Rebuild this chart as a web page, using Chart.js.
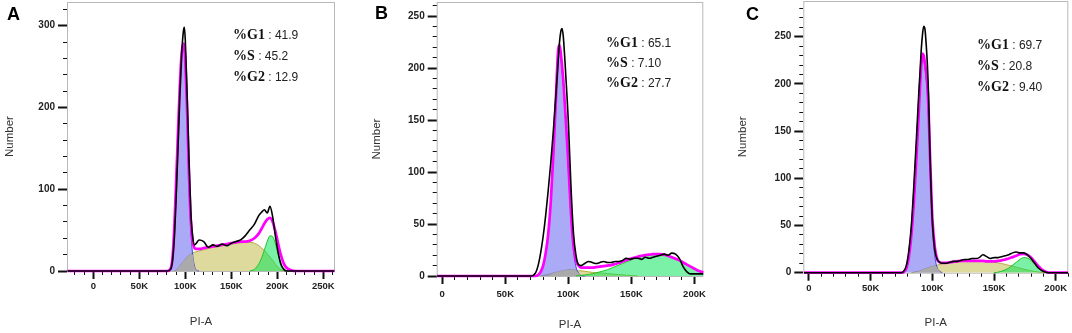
<!DOCTYPE html>
<html>
<head>
<meta charset="utf-8">
<script src="https://cdn.jsdelivr.net/npm/chart.js@4/dist/chart.umd.min.js"></script>
<style>
  html, body { margin: 0; padding: 0; background: #fff; }
  body { width: 1072px; height: 333px; position: relative; overflow: hidden; }
  canvas { position: absolute; top: 0; }
  .letter { position: absolute; font: bold 18px/18px "Liberation Sans", Arial, sans-serif; color: #000; }
  .stats { position: absolute; white-space: nowrap; }
  .stats div { line-height: 21px; height: 21px; }
  .stats b { font: bold 14px "Liberation Serif", "Times New Roman", serif; color: #111; }
  .stats span { font: 12px "Liberation Sans", Arial, sans-serif; color: #222; }
</style>
</head>
<body>
<canvas id="chartA" width="355" height="333" style="left:0px"></canvas>
<canvas id="chartB" width="355" height="333" style="left:355px"></canvas>
<canvas id="chartC" width="362" height="333" style="left:710px"></canvas>
<div class="letter" id="letterA" style="left:7px;top:5px"></div>
<div class="letter" id="letterB" style="left:375px;top:4px"></div>
<div class="letter" id="letterC" style="left:746px;top:5px"></div>
<div class="stats" id="statsA" style="left:233px;top:23px"></div>
<div class="stats" id="statsB" style="left:606px;top:32px"></div>
<div class="stats" id="statsC" style="left:977px;top:33px"></div>
<script>
// PI-A in thousands (K), y = Number of events
const PANEL_LETTERS = ['A', 'B', 'C'];
const PHASES = ['%G1', '%S', '%G2'];
const A_PCT = ['41.9', '45.2', '12.9'];
const B_PCT = ['65.1', '7.10', '27.7'];
const C_PCT = ['69.7', '20.8', '9.40'];

// ---- panel A ----
const A_X = [-28, 80, 84, 86, 88, 90, 92, 94, 96, 98, 99, 100, 102, 104, 106, 108, 110, 112, 115, 120,
  125, 130, 135, 140, 145, 150, 155, 160, 165, 170, 175, 180, 183, 186, 189, 192, 195, 198, 201, 204,
  207, 210, 215, 220, 262];
const A_RAW = [0, 0, 2, 12, 40, 90, 150, 215, 265, 294, 298, 282, 215, 135, 72, 42, 32, 34, 38, 36,
  29, 32, 30, 33, 31, 34, 36, 38, 43, 50, 57, 68, 72, 75, 71, 79, 66, 42, 22, 8,
  2, 0, 0, 0, 0];
const A_FIT = [0, 0, 3, 15, 52, 108, 168, 225, 266, 278, 274, 258, 195, 118, 62, 36, 28, 27, 27, 28,
  29, 30, 31, 32, 33, 34, 35, 36, 36, 37, 40, 46, 52, 58, 63, 65, 60, 48, 33, 19,
  9, 4, 1, 0, 0];
const A_G1 = [null, 0, 2, 13, 48, 100, 160, 218, 262, 278, 274, 255, 188, 108, 50, 20, 6, 1, 0, null,
  null, null, null, null, null, null, null, null, null, null, null, null, null, null, null, null, null, null, null, null,
  null, null, null, null, null];
const A_S = [null, null, null, null, 0, 0.5, 3, 6, 9, 12, 13, 14.5, 17, 19, 20.5, 22, 23, 23.5, 24.5, 26,
  27.5, 29, 30, 31, 32, 33, 34, 34.5, 35, 35, 34, 31, 28, 25, 21, 17, 13, 8, 4.5, 1.5,
  0, null, null, null, null];
const A_OVERLAP = [null, null, null, null, null, 0, 3, 6, 9, 12, 13, 14.5, 17, 19, 20.5, 20, 6, 1, 0, null,
  null, null, null, null, null, null, null, null, null, null, null, null, null, null, null, null, null, null, null, null,
  null, null, null, null, null];
const A_G2 = [null, null, null, null, null, null, null, null, null, null, null, null, null, null, null, null, null, null, null, null,
  null, null, null, null, null, null, null, null, null, 0, 2, 9, 16, 26, 36, 43, 42, 33, 20, 9,
  3, 0.5, 0, null, null];

// ---- panel B ----
const B_X = [-4, 70, 74, 76, 78, 80, 82, 84, 86, 88, 90, 92, 93, 94, 95, 96, 98, 100, 102, 104,
  106, 108, 110, 113, 116, 119, 122, 125, 128, 131, 134, 137, 140, 143, 146, 149, 152, 155, 158, 161,
  164, 167, 170, 173, 176, 179, 182, 185, 188, 191, 194, 197, 200, 203, 207];
const B_RAW = [0, 0, 3, 10, 22, 38, 58, 82, 108, 138, 172, 208, 225, 235, 238, 230, 192, 148, 88, 42,
  20, 11, 10, 12, 14, 13, 12, 13, 14, 13, 13, 14, 14, 15, 17, 16, 17, 17, 16, 18,
  17, 18, 19, 20, 21, 20, 22, 21, 17, 9, 4, 2, 2, 2, 2];
const B_FIT = [0, 0, 0, 1, 4, 10, 22, 40, 70, 115, 168, 218, 222, 214, 202, 188, 150, 108, 62, 30,
  15, 10, 8, 8, 8, 8, 8.5, 9, 9.5, 10, 10.5, 11.5, 12.5, 14, 15.5, 16.5, 17.5, 18.5, 19.5, 20,
  20.5, 21, 21, 21, 20.5, 19.5, 18, 16.5, 15, 13, 11, 9, 7, 5, 3.5];
const B_G1 = [null, null, 0, 1, 4, 10, 22, 40, 70, 114, 165, 215, 218, 210, 198, 184, 145, 103, 57, 25,
  9, 3, 0.5, 0, null, null, null, null, null, null, null, null, null, null, null, null, null, null, null, null,
  null, null, null, null, null, null, null, null, null, null, null, null, null, null, null];
const B_S = [null, null, null, null, 0, 0.5, 1, 1.5, 2, 3, 3.5, 4, 4.5, 4.5, 5, 5, 5.5, 6, 6, 6,
  5.5, 5, 5, 4.5, 4, 3.5, 3.2, 3, 2.7, 2.4, 2, 1.7, 1.4, 1.1, 0.8, 0.5, 0.3, 0, null, null,
  null, null, null, null, null, null, null, null, null, null, null, null, null, null, null];
const B_OVERLAP = [null, null, null, null, null, null, null, 0, 1.5, 3, 3.5, 4, 4.5, 4.5, 5, 5, 5.5, 6, 6, 6,
  5.5, 3, 0.5, 0, null, null, null, null, null, null, null, null, null, null, null, null, null, null, null, null,
  null, null, null, null, null, null, null, null, null, null, null, null, null, null, null];
const B_G2 = [null, null, null, null, null, null, null, null, null, null, null, null, null, null, null, null, null, null, null, null,
  0, 0.3, 0.6, 1, 1.5, 2.2, 3, 4, 5, 6, 7.5, 9, 10.5, 12, 13.5, 15, 16.5, 17.5, 18.5, 19.5,
  20, 20.5, 20.5, 20.5, 20, 19.5, 18, 16.5, 15, 13, 11, 9, 7, 5, 3.5];

// ---- panel C ----
const C_X = [-4, 70, 75, 77, 79, 81, 83, 85, 87, 89, 90, 91, 92, 93, 94, 95, 96, 97, 98, 99,
  100, 102, 104, 106, 108, 111, 114, 117, 120, 123, 126, 129, 132, 135, 138, 141, 144, 147, 150, 153,
  156, 159, 162, 165, 168, 171, 174, 177, 180, 183, 186, 189, 192, 195, 200, 210];
const C_RAW = [0, 0, 0, 2, 8, 24, 50, 92, 140, 190, 212, 236, 252, 261, 258, 242, 220, 185, 130, 88,
  55, 24, 14, 11, 10, 10, 11, 12, 12, 13, 14, 14, 15, 15, 16, 19, 17, 15, 16, 16,
  17, 18, 19, 21, 22, 21, 21, 19, 15, 10, 5, 2, 0.5, 0, 0, 0];
const C_FIT = [0, 0, 0, 1, 5, 17, 40, 75, 120, 170, 198, 220, 232, 230, 222, 212, 198, 170, 128, 90,
  58, 27, 14, 11, 10.5, 10.5, 11, 11.5, 12, 12.5, 12.5, 12.5, 12.5, 12.5, 12.5, 12.5, 12, 12, 12, 12.5,
  13, 14, 15, 16.5, 18, 19.5, 20, 19, 16, 11.5, 7, 3, 1, 0, 0, 0];
const C_G1 = [null, null, 0, 1, 5, 17, 40, 74, 118, 167, 195, 216, 228, 226, 217, 205, 190, 160, 118, 80,
  48, 18, 5, 1.5, 0, null, null, null, null, null, null, null, null, null, null, null, null, null, null, null,
  null, null, null, null, null, null, null, null, null, null, null, null, null, null, null, null];
const C_S = [null, null, null, null, null, null, 0, 0.5, 1, 1.5, 2, 2.5, 3, 3.5, 4, 4.5, 5, 5.5, 6, 6.3,
  6.5, 7.5, 8, 8.8, 9.5, 10.2, 10.8, 11.2, 11.5, 11.7, 11.8, 12, 12, 12, 12, 12, 11.7, 11.3, 11, 10.5,
  9.8, 8.8, 7.8, 7, 5.8, 4.8, 3.8, 2.8, 2, 1.3, 0.7, 0.2, 0, null, null, null];
const C_OVERLAP = [null, null, null, null, null, null, null, 0, 0.5, 1.5, 2, 2.5, 3, 3.5, 4, 4.5, 5, 5.5, 6, 6.3,
  6.5, 7.5, 5, 1.5, 0, null, null, null, null, null, null, null, null, null, null, null, null, null, null, null,
  null, null, null, null, null, null, null, null, null, null, null, null, null, null, null, null];
const C_G2 = [null, null, null, null, null, null, null, null, null, null, null, null, null, null, null, null, null, null, null, null,
  null, null, null, null, null, null, null, null, null, null, null, null, null, null, null, null, null, null, 0, 0.5,
  1.5, 3, 5, 8, 11, 14, 16, 15.5, 13, 9, 5, 2.5, 0.5, 0, null, null];

const FONT = '"Liberation Sans", Arial, sans-serif';

// light grey box around the plot area
const framePlugin = {
    id: 'frame',
    beforeDatasetsDraw(chart) {
        const {ctx, chartArea: a} = chart;
        ctx.save();
        ctx.strokeStyle = '#b8b8b8';
        ctx.lineWidth = 1;
        ctx.strokeRect(a.left + 0.5, a.top + 0.5, a.right - a.left - 1, a.bottom - a.top);
        ctx.restore();
    }
};

function line(xs, ys, extra) {
    return Object.assign({
        data: xs.map((x, i) => ({x: x, y: ys[i]})),
        pointRadius: 0,
        cubicInterpolationMode: 'monotone',
        spanGaps: false,
        clip: false,
    }, extra);
}

function buildChart(id, p) {
    const tickFont = {family: FONT, size: 9.5, weight: 'bold'};
    const yTickFont = {family: FONT, size: 10, weight: 'bold'};
    const fixed = (w, h) => s => {
        if (w !== null) s.width = w;
        if (h !== null) s.height = h;
        s.paddingLeft = 0; s.paddingRight = 0; s.paddingTop = 0; s.paddingBottom = 0;
    };
    new Chart(document.getElementById(id), {
        type: 'line',
        data: {
            datasets: [
                line(p.x, p.raw, {borderColor: '#000', borderWidth: 1.6, fill: false}),
                line(p.x, p.fit, {borderColor: '#ff00ff', borderWidth: 2.7, fill: false}),
                line(p.x, p.g2, {borderColor: '#22c322', borderWidth: 1, backgroundColor: 'rgba(0,228,85,0.52)', fill: 'origin'}),
                line(p.x, p.overlap, {borderWidth: 0, borderColor: 'rgba(0,0,0,0)', backgroundColor: '#aaaaaa', fill: 'origin'}),
                line(p.x, p.g1, {borderColor: 'rgba(50,50,220,0.9)', borderWidth: 1, backgroundColor: 'rgba(105,105,240,0.57)', fill: 'origin'}),
                line(p.x, p.s, {borderColor: '#b3aa3e', borderWidth: 1, backgroundColor: 'rgba(190,180,60,0.5)', fill: 'origin'}),
            ]
        },
        plugins: [framePlugin],
        options: {
            responsive: false,
            animation: false,
            devicePixelRatio: 1,
            layout: {padding: {left: 0, top: p.top, right: p.padRight, bottom: 0}},
            plugins: {legend: {display: false}, tooltip: {enabled: false}},
            scales: {
                x: {
                    type: 'linear', position: 'bottom', weight: 1, min: p.xmin, max: p.xmax,
                    ticks: {
                        stepSize: 50, includeBounds: false, autoSkip: false, maxRotation: 0,
                        padding: p.xTickPad, color: '#222', font: tickFont,
                        callback: v => v === 0 ? '0' : v + 'K',
                    },
                    grid: {drawOnChartArea: false, tickLength: 8, tickWidth: 2, tickColor: '#111', color: 'rgba(0,0,0,0)'},
                    border: {display: false},
                    title: {display: true, text: 'PI-A', color: '#333', font: {family: FONT, size: 11.5}, padding: {top: 0, bottom: p.xTitlePad}},
                    afterFit: fixed(null, p.xh),
                },
                x2: {
                    type: 'linear', position: 'bottom', weight: 0, min: p.xmin, max: p.xmax,
                    ticks: {stepSize: 10, includeBounds: false, autoSkip: false, display: false},
                    grid: {drawOnChartArea: false, tickLength: 4, tickWidth: 1, tickColor: '#111', color: 'rgba(0,0,0,0)'},
                    border: {display: false},
                    afterFit: fixed(null, 0),
                },
                y: {
                    type: 'linear', position: 'left', weight: 1, min: 0, max: p.ymax,
                    ticks: {
                        stepSize: p.ystep, includeBounds: false, autoSkip: false,
                        padding: 3, color: '#222', font: yTickFont,
                    },
                    grid: {drawOnChartArea: false, tickLength: 9, tickWidth: 2, tickColor: '#111', color: 'rgba(0,0,0,0)'},
                    border: {display: false},
                    title: {display: true, text: 'Number', color: '#333', font: {family: FONT, size: 11.5}, padding: {top: p.yTitlePad, bottom: 0}},
                    afterFit: fixed(p.yw, null),
                },
                y2: {
                    type: 'linear', position: 'left', weight: 0, min: 0, max: p.ymax,
                    ticks: {stepSize: p.yminor, includeBounds: false, autoSkip: false, display: false},
                    grid: {drawOnChartArea: false, tickLength: 4, tickWidth: 1, tickColor: '#111', color: 'rgba(0,0,0,0)'},
                    border: {display: false},
                    afterFit: fixed(0, null),
                },
            }
        }
    });
}

buildChart('chartA', {
    x: A_X, raw: A_RAW, fit: A_FIT, g1: A_G1, s: A_S, overlap: A_OVERLAP, g2: A_G2,
    xmin: -28.6, xmax: 262.7, ymax: 329, ystep: 100, yminor: 20,
    top: 2, padRight: 20, yw: 67, xh: 62, xTickPad: 2, xTitlePad: 4, yTitlePad: 3,
});
buildChart('chartB', {
    x: B_X, raw: B_RAW, fit: B_FIT, g1: B_G1, s: B_S, overlap: B_OVERLAP, g2: B_G2,
    xmin: -4.4, xmax: 207, ymax: 263.5, ystep: 50, yminor: 10,
    top: 2, padRight: 6.7, yw: 81.7, xh: 57, xTickPad: 5, xTitlePad: 1.1, yTitlePad: 14.8,
});
buildChart('chartC', {
    x: C_X, raw: C_RAW, fit: C_FIT, g1: C_G1, s: C_S, overlap: C_OVERLAP, g2: C_G2,
    xmin: -4.6, xmax: 210.2, ymax: 287.8, ystep: 50, yminor: 10,
    top: 1, padRight: 3.7, yw: 93.3, xh: 60.3, xTickPad: 1.6, xTitlePad: 3.1, yTitlePad: 26.1,
});

// panel letters and phase percentages
[[A_PCT, 'A'], [B_PCT, 'B'], [C_PCT, 'C']].forEach(([pct, key], i) => {
    document.getElementById('letter' + key).textContent = PANEL_LETTERS[i];
    const box = document.getElementById('stats' + key);
    PHASES.forEach((ph, j) => {
        const row = document.createElement('div');
        const b = document.createElement('b');
        b.textContent = ph;
        const s = document.createElement('span');
        s.textContent = ' : ' + pct[j];
        row.appendChild(b);
        row.appendChild(s);
        box.appendChild(row);
    });
});
document.getElementById('statsB').querySelectorAll('div').forEach(d => { d.style.height = '20px'; d.style.lineHeight = '20px'; });
</script>
</body>
</html>
